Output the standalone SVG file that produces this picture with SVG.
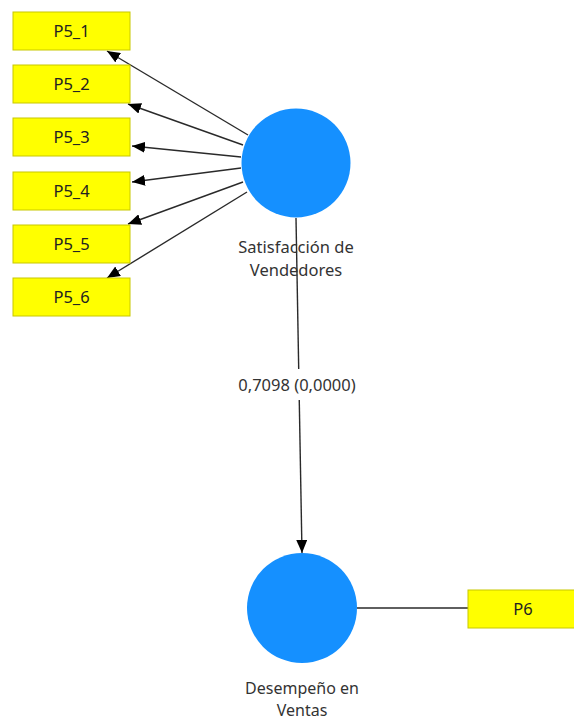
<svg xmlns="http://www.w3.org/2000/svg" width="574" height="721" viewBox="0 0 574 721">
<style>
.ind rect{fill:#FFFF00;stroke:#C8C800;stroke-width:1}
.ind text{font-family:"Noto Sans","DejaVu Sans",sans-serif;font-size:16.5px;fill:#222;text-anchor:middle}
.lv circle{fill:#1590FF}
.lbl{font-family:"Noto Sans","DejaVu Sans",sans-serif;font-size:16.5px;fill:#333;text-anchor:middle}
.edge{stroke:#2a2a2a;stroke-width:1.4;fill:none}
</style>
<defs>
<marker id="ah" viewBox="0 0 13 11" refX="13" refY="5.5" markerWidth="13" markerHeight="11" markerUnits="userSpaceOnUse" orient="auto">
<path d="M0,0 L13,5.5 L0,11 z" fill="#000"/>
</marker>
</defs>
<rect width="574" height="721" fill="#fff"/>
<g id="connectors">
<line class="edge" x1="248" y1="135" x2="107" y2="51" marker-end="url(#ah)"/>
<line class="edge" x1="243" y1="145" x2="128" y2="104" marker-end="url(#ah)"/>
<line class="edge" x1="241" y1="157" x2="132" y2="146" marker-end="url(#ah)"/>
<line class="edge" x1="241" y1="168" x2="132" y2="182" marker-end="url(#ah)"/>
<line class="edge" x1="243" y1="182" x2="128" y2="224" marker-end="url(#ah)"/>
<line class="edge" x1="247" y1="192" x2="107" y2="278" marker-end="url(#ah)"/>
<line class="edge" x1="296" y1="218" x2="302" y2="553" marker-end="url(#ah)"/>
<line class="edge" x1="357" y1="608" x2="468" y2="608"/>
<rect x="234" y="369" width="126" height="31" fill="#fff"/>
<text class="lbl" x="297" y="391">0,7098 (0,0000)</text>
</g>
<g id="P5_1" class="ind"><rect x="13" y="12" width="117" height="38"/><text x="71.5" y="37">P5_1</text></g>
<g id="P5_2" class="ind"><rect x="13" y="65" width="117" height="38"/><text x="71.5" y="90">P5_2</text></g>
<g id="P5_3" class="ind"><rect x="13" y="118" width="117" height="38"/><text x="71.5" y="143">P5_3</text></g>
<g id="P5_4" class="ind"><rect x="13" y="172" width="117" height="38"/><text x="71.5" y="197">P5_4</text></g>
<g id="P5_5" class="ind"><rect x="13" y="225" width="117" height="38"/><text x="71.5" y="250">P5_5</text></g>
<g id="P5_6" class="ind"><rect x="13" y="278" width="117" height="38"/><text x="71.5" y="303">P5_6</text></g>
<g id="P6" class="ind"><rect x="468" y="590" width="110" height="38"/><text x="523" y="615">P6</text></g>
<g id="satisfaccion" class="lv"><circle cx="296" cy="163" r="54.5"/>
<text class="lbl" x="296" y="253">Satisfacción de</text>
<text class="lbl" x="296" y="276">Vendedores</text></g>
<g id="desempeno" class="lv"><circle cx="302" cy="608" r="55"/>
<text class="lbl" x="302" y="694" style="font-size:16px">Desempeño en</text>
<text class="lbl" x="302" y="716" style="font-size:16px">Ventas</text></g>
</svg>
